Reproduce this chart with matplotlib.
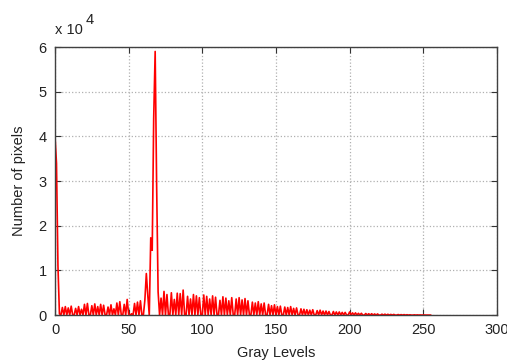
import matplotlib
matplotlib.use("Agg")
import matplotlib.pyplot as plt
import numpy as np

plt.rcParams['font.family'] = ['Liberation Sans', 'DejaVu Sans']

# pixel counts per gray level 0..255
counts = [
    40000, 34000, 11000, 300, 0, 1700, 0, 1900, 0, 1600,
    0, 2000, 0, 0, 1500, 0, 1900, 0, 1300, 0,
    2400, 0, 2600, 0, 0, 2100, 0, 2500, 0, 1900,
    0, 2400, 0, 2200, 0, 0, 1800, 0, 2300, 0,
    1400, 0, 2700, 0, 3000, 0, 0, 2400, 0, 3500,
    200, 0, 300, 0, 2600, 0, 2900, 0, 3200, 0,
    0, 3300, 9300, 4400, 0, 17300, 14500, 44000, 59000, 29000,
    5200, 0, 3800, 0, 5300, 0, 4600, 0, 0, 5000,
    0, 3500, 0, 4900, 0, 4800, 0, 5600, 0, 0,
    4200, 0, 3600, 0, 4600, 0, 4300, 0, 3900, 0,
    0, 4500, 0, 4200, 0, 3600, 0, 4300, 0, 4000,
    0, 0, 3300, 0, 4100, 0, 3800, 0, 3200, 0,
    3900, 0, 0, 3600, 0, 3900, 0, 3400, 0, 3700,
    0, 3200, 0, 0, 2900, 0, 2700, 0, 3000, 0,
    2500, 0, 2700, 0, 0, 2400, 0, 2100, 0, 2300,
    0, 1900, 0, 2000, 0, 0, 1800, 0, 1700, 0,
    1900, 0, 1500, 0, 1600, 0, 0, 1400, 0, 1300,
    0, 1200, 0, 1100, 0, 1200, 0, 0, 1000, 0,
    1100, 0, 900, 0, 900, 0, 800, 0, 0, 800,
    0, 700, 0, 700, 0, 600, 0, 600, 0, 0,
    700, 0, 500, 0, 500, 0, 400, 0, 400, 0,
    0, 350, 0, 300, 0, 300, 0, 250, 0, 250,
    0, 0, 200, 0, 200, 0, 180, 0, 150, 0,
    150, 0, 0, 120, 0, 100, 0, 100, 0, 80,
    0, 60, 0, 0, 50, 0, 40, 0, 30, 0,
    20, 0, 0, 0, 0, 0,
]
levels = np.arange(len(counts))

x_ticks = [0, 50, 100, 150, 200, 250, 300]
y_ticks = [0, 1, 2, 3, 4, 5, 6]

fig = plt.figure(figsize=(5.07, 3.63), dpi=100)
ax = fig.add_axes([0.1085, 0.132, 0.8715, 0.7385])

ax.plot(levels, np.array(counts) / 1e4, color='#ff0000', lw=1.2)

ax.set_xlim(0, 300)
ax.set_ylim(0, 6)
ax.set_xticks(x_ticks)
ax.set_yticks(y_ticks)
ax.set_xticklabels([str(t) for t in x_ticks])
ax.set_yticklabels([str(t) for t in y_ticks])
ax.grid(True, linestyle=':', color='#b0b0b0', lw=0.9)
ax.tick_params(direction='in', length=4, top=True, right=True,
               labelsize=10.5, color='#333333', labelcolor='#222222', pad=6)
for s in ax.spines.values():
    s.set_color('#404040')
    s.set_linewidth(1.0)

ax.set_xlabel('Gray Levels', fontsize=10.5, color='#222222', labelpad=6)
ax.set_ylabel('Number of pixels', fontsize=10.5, color='#222222', labelpad=9)

fig.text(0.108, 0.905, 'x 10', fontsize=10.5, color='#222222')
fig.text(0.168, 0.935, '4', fontsize=10.5, color='#222222')

fig.savefig('out.png', dpi=100)
